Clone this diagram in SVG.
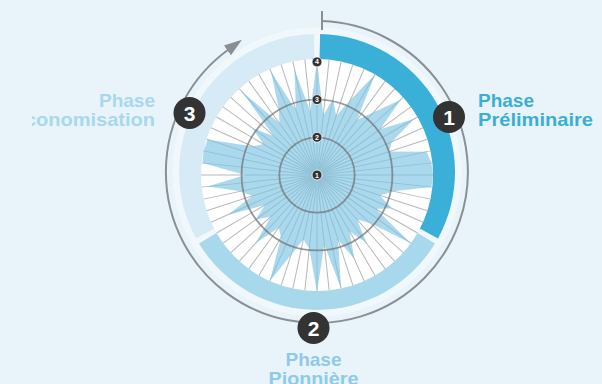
<svg xmlns="http://www.w3.org/2000/svg" xmlns:xlink="http://www.w3.org/1999/xlink" width="602" height="384" viewBox="0 0 602 384">
<style>
.lbl{font-family:"Liberation Sans",Arial,sans-serif;font-weight:bold;font-size:19px}
.badge circle{fill:#333333}
.badge text{font-family:"Liberation Sans",Arial,sans-serif;font-weight:bold;font-size:21px;fill:#ffffff;text-anchor:middle}
.lvl circle{fill:#333333;stroke:#ffffff;stroke-width:0.8}
.lvl text{font-family:"Liberation Sans",Arial,sans-serif;font-weight:bold;font-size:7px;fill:#ffffff;text-anchor:middle}
.spoke{stroke:#b8b8b8;stroke-width:1}
.grid{fill:none;stroke:#6f6f6f;stroke-width:1.8;stroke-opacity:0.7}
.conn{fill:none;stroke:#8a8f94;stroke-width:2}
</style>
<defs>
<line id="sp" class="spoke" x1="317" y1="175" x2="317" y2="59"/>
<marker id="ah" markerUnits="userSpaceOnUse" markerWidth="20" markerHeight="16" viewBox="0 0 20 16" refX="1" refY="8" orient="auto">
<path d="M0,2 L18,8 L0,14 Z" fill="#8a8f94"/>
</marker>
<clipPath id="clipL"><rect x="32" y="0" width="570" height="384"/></clipPath>
</defs>
<rect x="0" y="0" width="602" height="384" fill="#e9f4fa"/>
<circle cx="317" cy="172" r="144.5" fill="#f1f8fc"/>
<g id="connectors">
<path class="conn" d="M322,21.1 A151,151 0 1 1 228.2,49.8" marker-end="url(#ah)"/>
<line class="conn" x1="322" y1="11" x2="322" y2="30"/>
</g>
<g id="phase1-band"><path d="M317,172 L320.1,34.0 A138,138 0 0 1 437.9,238.5 Z" fill="#3ab0d8"/></g>
<g id="phase2-band"><path d="M317,172 L435.0,243.5 A138,138 0 0 1 199.0,243.5 Z" fill="#a7d8ec"/></g>
<g id="phase3-band"><path d="M317,172 L196.1,238.5 A138,138 0 0 1 313.9,34.0 Z" fill="#d6ebf5"/></g>
<g id="chart">
<circle cx="317" cy="175" r="116" fill="#ffffff"/>
<g id="spokes">
<use xlink:href="#sp"/><use xlink:href="#sp" transform="rotate(6 317 175)"/><use xlink:href="#sp" transform="rotate(12 317 175)"/><use xlink:href="#sp" transform="rotate(18 317 175)"/><use xlink:href="#sp" transform="rotate(24 317 175)"/><use xlink:href="#sp" transform="rotate(30 317 175)"/><use xlink:href="#sp" transform="rotate(36 317 175)"/><use xlink:href="#sp" transform="rotate(42 317 175)"/><use xlink:href="#sp" transform="rotate(48 317 175)"/><use xlink:href="#sp" transform="rotate(54 317 175)"/>
<use xlink:href="#sp" transform="rotate(60 317 175)"/><use xlink:href="#sp" transform="rotate(66 317 175)"/><use xlink:href="#sp" transform="rotate(72 317 175)"/><use xlink:href="#sp" transform="rotate(78 317 175)"/><use xlink:href="#sp" transform="rotate(84 317 175)"/><use xlink:href="#sp" transform="rotate(90 317 175)"/><use xlink:href="#sp" transform="rotate(96 317 175)"/><use xlink:href="#sp" transform="rotate(102 317 175)"/><use xlink:href="#sp" transform="rotate(108 317 175)"/><use xlink:href="#sp" transform="rotate(114 317 175)"/>
<use xlink:href="#sp" transform="rotate(120 317 175)"/><use xlink:href="#sp" transform="rotate(126 317 175)"/><use xlink:href="#sp" transform="rotate(132 317 175)"/><use xlink:href="#sp" transform="rotate(138 317 175)"/><use xlink:href="#sp" transform="rotate(144 317 175)"/><use xlink:href="#sp" transform="rotate(150 317 175)"/><use xlink:href="#sp" transform="rotate(156 317 175)"/><use xlink:href="#sp" transform="rotate(162 317 175)"/><use xlink:href="#sp" transform="rotate(168 317 175)"/><use xlink:href="#sp" transform="rotate(174 317 175)"/>
<use xlink:href="#sp" transform="rotate(180 317 175)"/><use xlink:href="#sp" transform="rotate(186 317 175)"/><use xlink:href="#sp" transform="rotate(192 317 175)"/><use xlink:href="#sp" transform="rotate(198 317 175)"/><use xlink:href="#sp" transform="rotate(204 317 175)"/><use xlink:href="#sp" transform="rotate(210 317 175)"/><use xlink:href="#sp" transform="rotate(216 317 175)"/><use xlink:href="#sp" transform="rotate(222 317 175)"/><use xlink:href="#sp" transform="rotate(228 317 175)"/><use xlink:href="#sp" transform="rotate(234 317 175)"/>
<use xlink:href="#sp" transform="rotate(240 317 175)"/><use xlink:href="#sp" transform="rotate(246 317 175)"/><use xlink:href="#sp" transform="rotate(252 317 175)"/><use xlink:href="#sp" transform="rotate(258 317 175)"/><use xlink:href="#sp" transform="rotate(264 317 175)"/><use xlink:href="#sp" transform="rotate(270 317 175)"/><use xlink:href="#sp" transform="rotate(276 317 175)"/><use xlink:href="#sp" transform="rotate(282 317 175)"/><use xlink:href="#sp" transform="rotate(288 317 175)"/><use xlink:href="#sp" transform="rotate(294 317 175)"/>
<use xlink:href="#sp" transform="rotate(300 317 175)"/><use xlink:href="#sp" transform="rotate(306 317 175)"/><use xlink:href="#sp" transform="rotate(312 317 175)"/><use xlink:href="#sp" transform="rotate(318 317 175)"/><use xlink:href="#sp" transform="rotate(324 317 175)"/><use xlink:href="#sp" transform="rotate(330 317 175)"/><use xlink:href="#sp" transform="rotate(336 317 175)"/><use xlink:href="#sp" transform="rotate(342 317 175)"/><use xlink:href="#sp" transform="rotate(348 317 175)"/><use xlink:href="#sp" transform="rotate(354 317 175)"/>
</g>
<polygon id="data" fill="#7cc4e4" fill-opacity="0.65" points="317,61 323.3,115.3 333.2,98.7 336.2,116 350.3,100.1 375,74.5 357,120 373.2,112.6 401,99.4 380.1,129.2 414,119 391.9,141.7 389.3,151.5 426.5,151.7 431.4,163 433,175 431.4,187 393.3,191.2 379.8,195.4 391.9,208.3 375.9,209 410.8,243.2 370.5,223.2 357.1,219.6 366.4,243 349.5,231.3 354.4,259 338,239.7 341.1,288.5 324.3,244.6 317,292 309.3,248.6 303.3,239.6 291,254.9 269.8,281 281,237.4 278.8,227.6 255.4,243.4 270.9,216.5 255.5,219.7 265,205 227.5,214.9 252.3,196 240.7,191.2 207.6,186.5 245,175 202.6,163 203.5,150.9 207.6,139.5 253.1,146.5 263.3,144 252.3,128 273.9,136.2 242.1,91.8 279.4,123.2 279,109.2 271,71.8 296,110.3 294.5,69.4 310.3,111.4"/>
<circle class="grid" cx="317" cy="175" r="37.7"/>
<circle class="grid" cx="317" cy="175" r="75.4"/>
<g class="lvl">
<circle cx="317" cy="175" r="5"/><text x="317" y="177.5">1</text>
<circle cx="317" cy="137.3" r="5"/><text x="317" y="139.8">2</text>
<circle cx="317" cy="99.6" r="5"/><text x="317" y="102.1">3</text>
<circle cx="317" cy="61.9" r="5"/><text x="317" y="64.4">4</text>
</g>
</g>
<g id="phase1">
<g class="badge"><circle cx="449" cy="117" r="16"/><text x="449" y="124.5">1</text></g>
<text class="lbl" fill="#3aafd6" x="478" y="107">Phase</text>
<text class="lbl" fill="#3aafd6" x="478" y="126" textLength="115" lengthAdjust="spacingAndGlyphs">Préliminaire</text>
</g>
<g id="phase2">
<g class="badge"><circle cx="313.5" cy="328" r="16"/><text x="313.5" y="335.5">2</text></g>
<text class="lbl" fill="#8dcbe8" x="313.5" y="366" text-anchor="middle">Phase</text>
<text class="lbl" fill="#8dcbe8" x="313.5" y="385" text-anchor="middle" textLength="90" lengthAdjust="spacingAndGlyphs">Pionnière</text>
</g>
<g id="phase3">
<g class="badge"><circle cx="189.5" cy="113" r="16"/><text x="189.5" y="120.5">3</text></g>
<text class="lbl" fill="#a8d8ee" x="155" y="107" text-anchor="end">Phase</text>
<text class="lbl" fill="#a8d8ee" x="155" y="126" text-anchor="end" textLength="130" lengthAdjust="spacingAndGlyphs" clip-path="url(#clipL)">conomisation</text>
</g>
</svg>
